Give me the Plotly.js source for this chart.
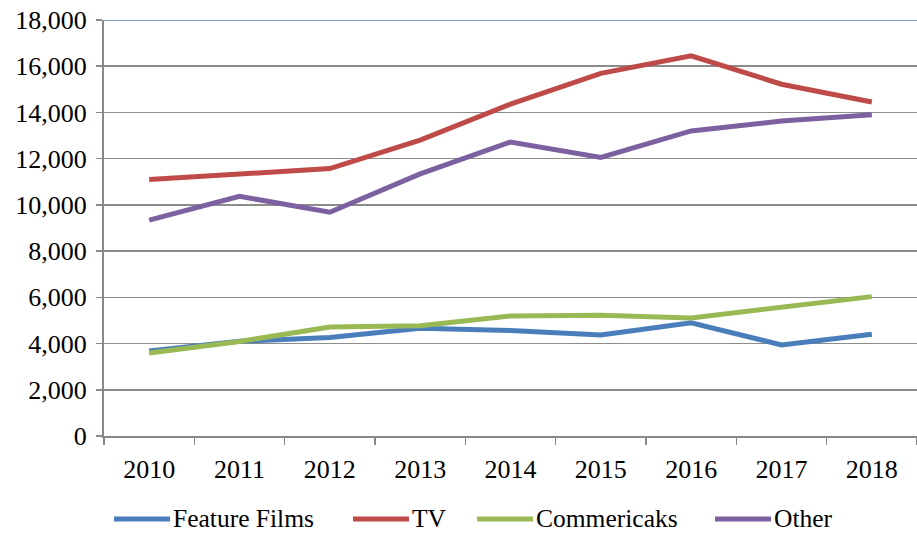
<!DOCTYPE html>
<html>
<head>
<meta charset="utf-8">
<script src="https://cdn.plot.ly/plotly-3.0.1.min.js"></script>
<style>html,body{margin:0;padding:0;background:#fff;}#chart{width:917px;height:533px;}</style>
</head>
<body>
<div id="chart"></div>
<script>
const years = ["2010","2011","2012","2013","2014","2015","2016","2017","2018"];
const featureFilms = [3680, 4100, 4260, 4660, 4560, 4370, 4900, 3940, 4400];
const tv = [11100, 11350, 11570, 12800, 14360, 15690, 16450, 15220, 14450];
const commercials = [3590, 4090, 4720, 4770, 5190, 5230, 5110, 5570, 6030];
const other = [9340, 10370, 9680, 11340, 12720, 12050, 13200, 13630, 13900];
const seriesNames = ["Feature Films", "TV", "Commericaks", "Other"];
const yTicks = [0, 2000, 4000, 6000, 8000, 10000, 12000, 14000, 16000, 18000];

const colors = ["#4A7EBB", "#BE4B48", "#98B954", "#7D60A0"];
const values = [featureFilms, tv, commercials, other];
const traces = values.map((v, i) => ({
  x: years, y: v, name: seriesNames[i], type: "scatter", mode: "lines",
  line: {color: colors[i], width: 5}
}));

// Custom legend placement (pixel positions in the 917x533 figure)
const PL = 104, PW = 813, PT = 20, PH = 416;
const legendLineStart = [114, 353, 477, 715];
const legendLineLen = 56;
const legendY = 518;
const px2x = p => (p - PL) / PW;
const py2y = p => (PT + PH - p) / PH;

const FONT = "Liberation Serif";
const shapes = [{type: "line", xref: "paper", yref: "y", x0: 0, x1: 1, y0: 18000, y1: 18000,
                 line: {color: "#4A7EBB", width: 1.5}}];
const annotations = [];
seriesNames.forEach((n, i) => {
  const s = legendLineStart[i];
  shapes.push({type: "line", xref: "paper", yref: "paper",
    x0: px2x(s), x1: px2x(s + legendLineLen), y0: py2y(legendY + 1), y1: py2y(legendY + 1),
    line: {color: colors[i], width: 5}});
  annotations.push({xref: "paper", yref: "paper", x: px2x(s + legendLineLen + 2), y: py2y(legendY),
    xanchor: "left", yanchor: "middle", showarrow: false, text: n,
    font: {family: FONT, size: 25.5, color: "#000"}, borderpad: 0});
});

const layout = {
  width: 917, height: 533,
  margin: {l: PL, r: 917 - PL - PW, t: PT, b: 533 - PT - PH, autoexpand: false},
  paper_bgcolor: "#fff", plot_bgcolor: "#fff",
  font: {family: FONT, color: "#000", size: 26},
  showlegend: false,
  xaxis: {type: "category", range: [-0.5, 8.5], showgrid: false, showline: true, linecolor: "#888", linewidth: 2,
          ticks: "outside", tickson: "boundaries", ticklen: 7, tickcolor: "#888", tickwidth: 1.5, tickangle: 0,
          ticklabelstandoff: 9, tickfont: {family: FONT, size: 26, color: "#000"}, fixedrange: true, automargin: false},
  yaxis: {range: [0, 18000], tickvals: yTicks, tickformat: ",d", showgrid: true, gridcolor: "#8c8c8c", gridwidth: 1.5,
          showline: true, linecolor: "#888", linewidth: 2, ticks: "outside", ticklen: 6, tickcolor: "#888", tickwidth: 1.5,
          ticklabelstandoff: 4, tickfont: {family: FONT, size: 26, color: "#000"}, zeroline: false, fixedrange: true, automargin: false},
  shapes: shapes,
  annotations: annotations
};
Plotly.newPlot("chart", traces, layout, {displayModeBar: false, staticPlot: true});
</script>
</body>
</html>
